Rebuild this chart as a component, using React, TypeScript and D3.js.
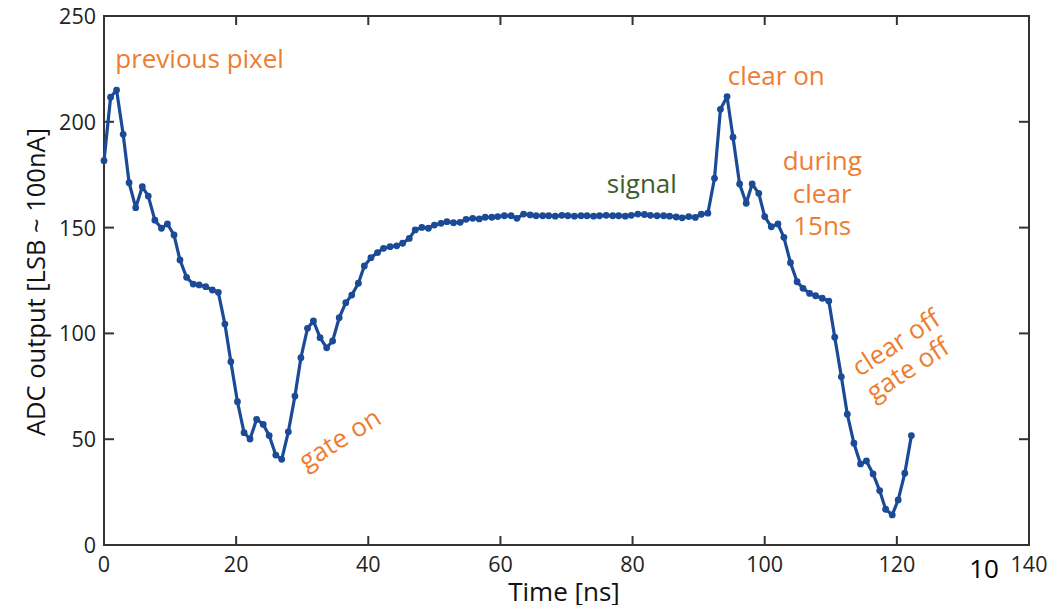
import * as d3 from 'd3';
import React, {useRef, useEffect} from 'react';

// time axis of each sample [ns]
const timeNs = [
  0.0, 1.0, 1.9, 2.9, 3.8, 4.8, 5.8, 6.7, 7.7, 8.7, 9.6, 10.6, 11.5, 12.5, 13.5, 14.4,
  15.4, 16.4, 17.3, 18.3, 19.2, 20.2, 21.2, 22.1, 23.1, 24.1, 25.0, 26.0, 26.9, 27.9, 28.9, 29.8,
  30.8, 31.7, 32.7, 33.7, 34.6, 35.6, 36.6, 37.5, 38.5, 39.4, 40.4, 41.4, 42.3, 43.3, 44.3, 45.2,
  46.2, 47.1, 48.1, 49.1, 50.0, 51.0, 51.9, 52.9, 53.9, 54.8, 55.8, 56.8, 57.7, 58.7, 59.6, 60.6,
  61.6, 62.5, 63.5, 64.5, 65.4, 66.4, 67.3, 68.3, 69.3, 70.2, 71.2, 72.2, 73.1, 74.1, 75.0, 76.0,
  77.0, 77.9, 78.9, 79.8, 80.8, 81.8, 82.7, 83.7, 84.7, 85.6, 86.6, 87.5, 88.5, 89.5, 90.4, 91.4,
  92.4, 93.3, 94.3, 95.2, 96.2, 97.2, 98.1, 99.1, 100.0, 101.0, 102.0, 102.9, 103.9, 104.9, 105.8, 106.8,
  107.7, 108.7, 109.7, 110.6, 111.6, 112.5, 113.5, 114.5, 115.4, 116.4, 117.4, 118.3, 119.3, 120.2, 121.2, 122.2
];

// ADC output [LSB]
const adcOutput = [
  181.6, 211.6, 215.0, 194.1, 171.2, 159.4, 169.3, 164.9, 153.5, 149.7, 151.7, 146.5, 134.7, 126.5, 123.3, 122.9,
  122.1, 120.5, 119.4, 104.4, 86.6, 67.7, 53.1, 50.1, 59.4, 57.0, 51.7, 42.5, 40.5, 53.5, 70.4, 88.5,
  102.4, 105.9, 98.0, 93.2, 96.4, 107.4, 114.5, 118.1, 123.7, 131.9, 135.8, 138.2, 140.2, 141.0, 141.4, 142.6,
  144.9, 148.9, 150.1, 149.7, 151.2, 152.0, 152.8, 152.3, 152.5, 153.9, 154.4, 154.1, 154.9, 154.9, 155.2, 155.6,
  155.6, 154.4, 156.4, 156.0, 155.6, 155.6, 155.6, 155.4, 155.8, 155.6, 155.4, 155.6, 155.6, 155.4, 155.6, 155.8,
  155.6, 155.6, 155.4, 155.8, 156.4, 156.2, 155.8, 155.6, 155.6, 155.4, 155.0, 154.6, 155.2, 154.8, 156.3, 156.8,
  173.3, 205.9, 211.9, 192.7, 170.6, 161.5, 170.6, 166.2, 155.2, 150.4, 151.7, 145.4, 133.4, 124.4, 121.3, 118.9,
  117.8, 116.6, 115.3, 98.2, 79.5, 61.8, 48.1, 38.3, 39.7, 33.6, 25.7, 16.9, 14.2, 21.3, 33.9, 51.7
];

const xTicks = [0, 20, 40, 60, 80, 100, 120, 140];
const yTicks = [0, 50, 100, 150, 200, 250];

// annotations: [text, x(ns), y(LSB), rotation, anchor, colour]
const notes: [string, number, number, number, string, string][] = [
  ['previous pixel', 1.7, 225.4, 0, 'start', '#ED7D31'],
  ['clear on', 94.4, 217.4, 0, 'start', '#ED7D31'],
  ['during', 108.7, 177.2, 0, 'middle', '#ED7D31'],
  ['clear', 108.7, 161.6, 0, 'middle', '#ED7D31'],
  ['15ns', 108.7, 146.5, 0, 'middle', '#ED7D31'],
  ['signal', 81.4, 166.4, 0, 'middle', '#3B5E2B'],
  ['gate on', 36.4, 46.5, -32, 'middle', '#ED7D31'],
  ['clear off', 120.6, 92, -33, 'middle', '#ED7D31'],
  ['gate off', 122.4, 79.5, -33, 'middle', '#ED7D31'],
];

const FONT = '"Open Sans", "Liberation Sans", sans-serif';

const App = () => {
  const ref = useRef<SVGSVGElement>(null);

  useEffect(() => {
    const svg = d3.select(ref.current);
    svg.selectAll('*').remove();

    const left = 104, right = 1029, top = 16, bottom = 545;
    const x = d3.scaleLinear().domain([0, 140]).range([left, right]);
    const y = d3.scaleLinear().domain([0, 250]).range([bottom, top]);

    const points = timeNs.map((t, i) => [t, adcOutput[i]] as [number, number]);

    // frame
    svg.append('rect')
      .attr('x', left).attr('y', top)
      .attr('width', right - left).attr('height', bottom - top)
      .attr('fill', 'none').attr('stroke', '#333').attr('stroke-width', 2);

    // ticks pointing inwards on all four sides
    const tickG = svg.append('g').attr('stroke', '#333').attr('stroke-width', 2);
    xTicks.forEach(t => {
      tickG.append('line').attr('x1', x(t)).attr('x2', x(t)).attr('y1', bottom).attr('y2', bottom - 9);
      tickG.append('line').attr('x1', x(t)).attr('x2', x(t)).attr('y1', top).attr('y2', top + 9);
    });
    yTicks.forEach(t => {
      tickG.append('line').attr('x1', left).attr('x2', left + 10).attr('y1', y(t)).attr('y2', y(t));
      tickG.append('line').attr('x1', right).attr('x2', right - 10).attr('y1', y(t)).attr('y2', y(t));
    });

    svg.append('g').selectAll('text').data(xTicks).enter().append('text')
      .attr('x', d => x(d)).attr('y', 572)
      .attr('text-anchor', 'middle')
      .attr('font-family', FONT).attr('font-size', 21.5).attr('fill', '#222')
      .text(d => d);

    svg.append('g').selectAll('text').data(yTicks).enter().append('text')
      .attr('x', 96).attr('y', d => y(d) + 8)
      .attr('text-anchor', 'end')
      .attr('font-family', FONT).attr('font-size', 21.5).attr('fill', '#222')
      .text(d => d);

    // axis titles
    svg.append('text')
      .attr('x', 564).attr('y', 601)
      .attr('text-anchor', 'middle')
      .attr('font-family', FONT).attr('font-size', 26).attr('fill', '#111')
      .text('Time [ns]');

    svg.append('text')
      .attr('transform', 'translate(45,282) rotate(-90)')
      .attr('text-anchor', 'middle')
      .attr('font-family', FONT).attr('font-size', 25.5).attr('fill', '#111')
      .text('ADC output [LSB ~ 100nA]');

    // stray page number
    svg.append('text')
      .attr('x', 984).attr('y', 578)
      .attr('text-anchor', 'middle')
      .attr('font-family', FONT).attr('font-size', 26).attr('fill', '#000')
      .text('10');

    // the trace
    const line = d3.line<[number, number]>().x(d => x(d[0])).y(d => y(d[1]));
    svg.append('path')
      .datum(points)
      .attr('d', line)
      .attr('fill', 'none')
      .attr('stroke', '#1B4A96')
      .attr('stroke-width', 3.2)
      .attr('stroke-linejoin', 'round');

    svg.append('g').selectAll('circle').data(points).enter().append('circle')
      .attr('cx', d => x(d[0])).attr('cy', d => y(d[1]))
      .attr('r', 3.4)
      .attr('fill', '#1B4A96');

    // annotations
    svg.append('g').selectAll('text').data(notes).enter().append('text')
      .attr('transform', d => 'translate(' + x(d[1]) + ',' + y(d[2]) + ') rotate(' + d[3] + ')')
      .attr('text-anchor', d => d[4])
      .attr('font-family', FONT).attr('font-size', 26)
      .attr('fill', d => d[5])
      .text(d => d[0]);
  });

  return (
    <svg ref={ref} width={1061} height={605}
      style={{position: 'absolute', left: 0, top: 0, background: '#fff'}}>
    </svg>
  );
};

export default App;
